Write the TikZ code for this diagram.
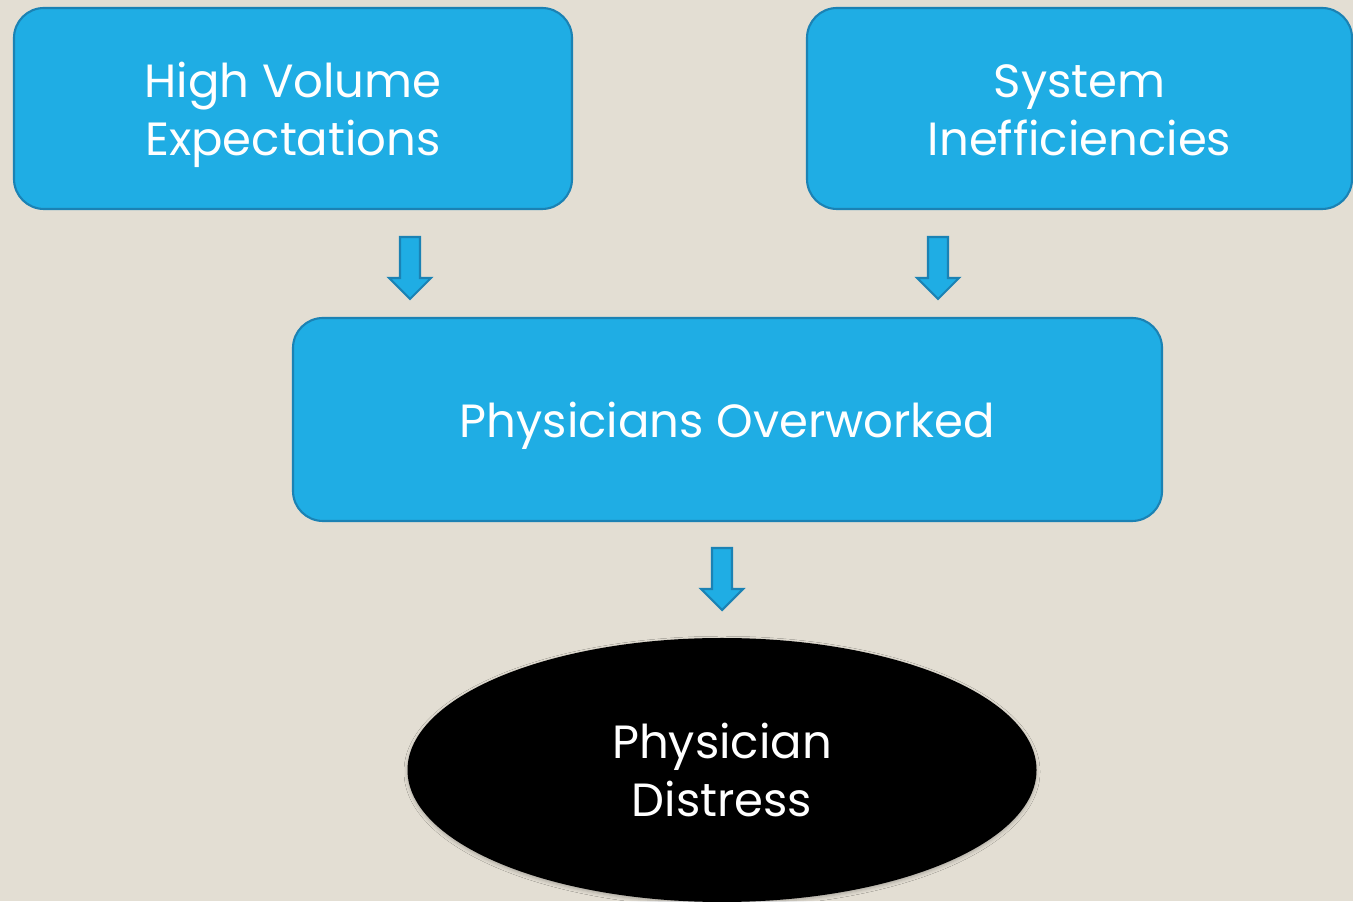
\documentclass[tikz,border=0pt]{standalone}
\usepackage{fontspec}
\setmainfont{Poppins}
\usetikzlibrary{shapes.geometric,shadows.blur}
\definecolor{paper}{HTML}{E3DED3}
\definecolor{boxblue}{HTML}{1FADE4}
\definecolor{boxedge}{HTML}{1B82B4}
\newcommand{\topstrut}{\rule{0pt}{30pt}}

\begin{document}
\begin{tikzpicture}[
  txt/.style={text=white, align=center, font=\fontsize{26.5}{33}\selectfont},
  box/.style={txt, draw=boxedge, line width=1.2pt, fill=boxblue, rounded corners=0.6cm},
  oval/.style={txt, ellipse, fill=black, blur shadow={shadow xshift=0pt,
               shadow yshift=-1pt, shadow blur radius=2pt, shadow opacity=25}},
  downarr/.pic={\draw[draw=boxedge, line width=1.2pt, fill=boxblue, line join=miter]
    (-0.2,0) -- (0.2,0) -- (0.2,-0.82) -- (0.42,-0.82) -- (0,-1.24)
    -- (-0.42,-0.82) -- (-0.2,-0.82) -- cycle;}
]
  \fill[paper] (0,0) rectangle (27.06,18.02);
  \useasboundingbox (0,0) rectangle (27.06,18.02);

  \node[box, minimum width=11.16cm, minimum height=4.02cm] (volume) at (5.86,15.85)
    {\topstrut High Volume\\Expectations\strut};
  \node[box, minimum width=10.9cm, minimum height=4.02cm] (system) at (21.59,15.85)
    {\topstrut System\\Inefficiencies\strut};
  \node[box, minimum width=17.38cm, minimum height=4.06cm] (overwork) at (14.55,9.63)
    {\topstrut Physicians Overworked\strut};
  \node[oval, minimum width=12.58cm, minimum height=5.28cm] (distress) at (14.44,2.62)
    {\topstrut Physician\\Distress\strut};

  \coordinate (arrA) at (8.2,13.28);
  \coordinate (arrB) at (18.76,13.28);
  \coordinate (arrC) at (14.44,7.06);
  \pic at (arrA) {downarr};
  \pic at (arrB) {downarr};
  \pic at (arrC) {downarr};
\end{tikzpicture}
\end{document}
